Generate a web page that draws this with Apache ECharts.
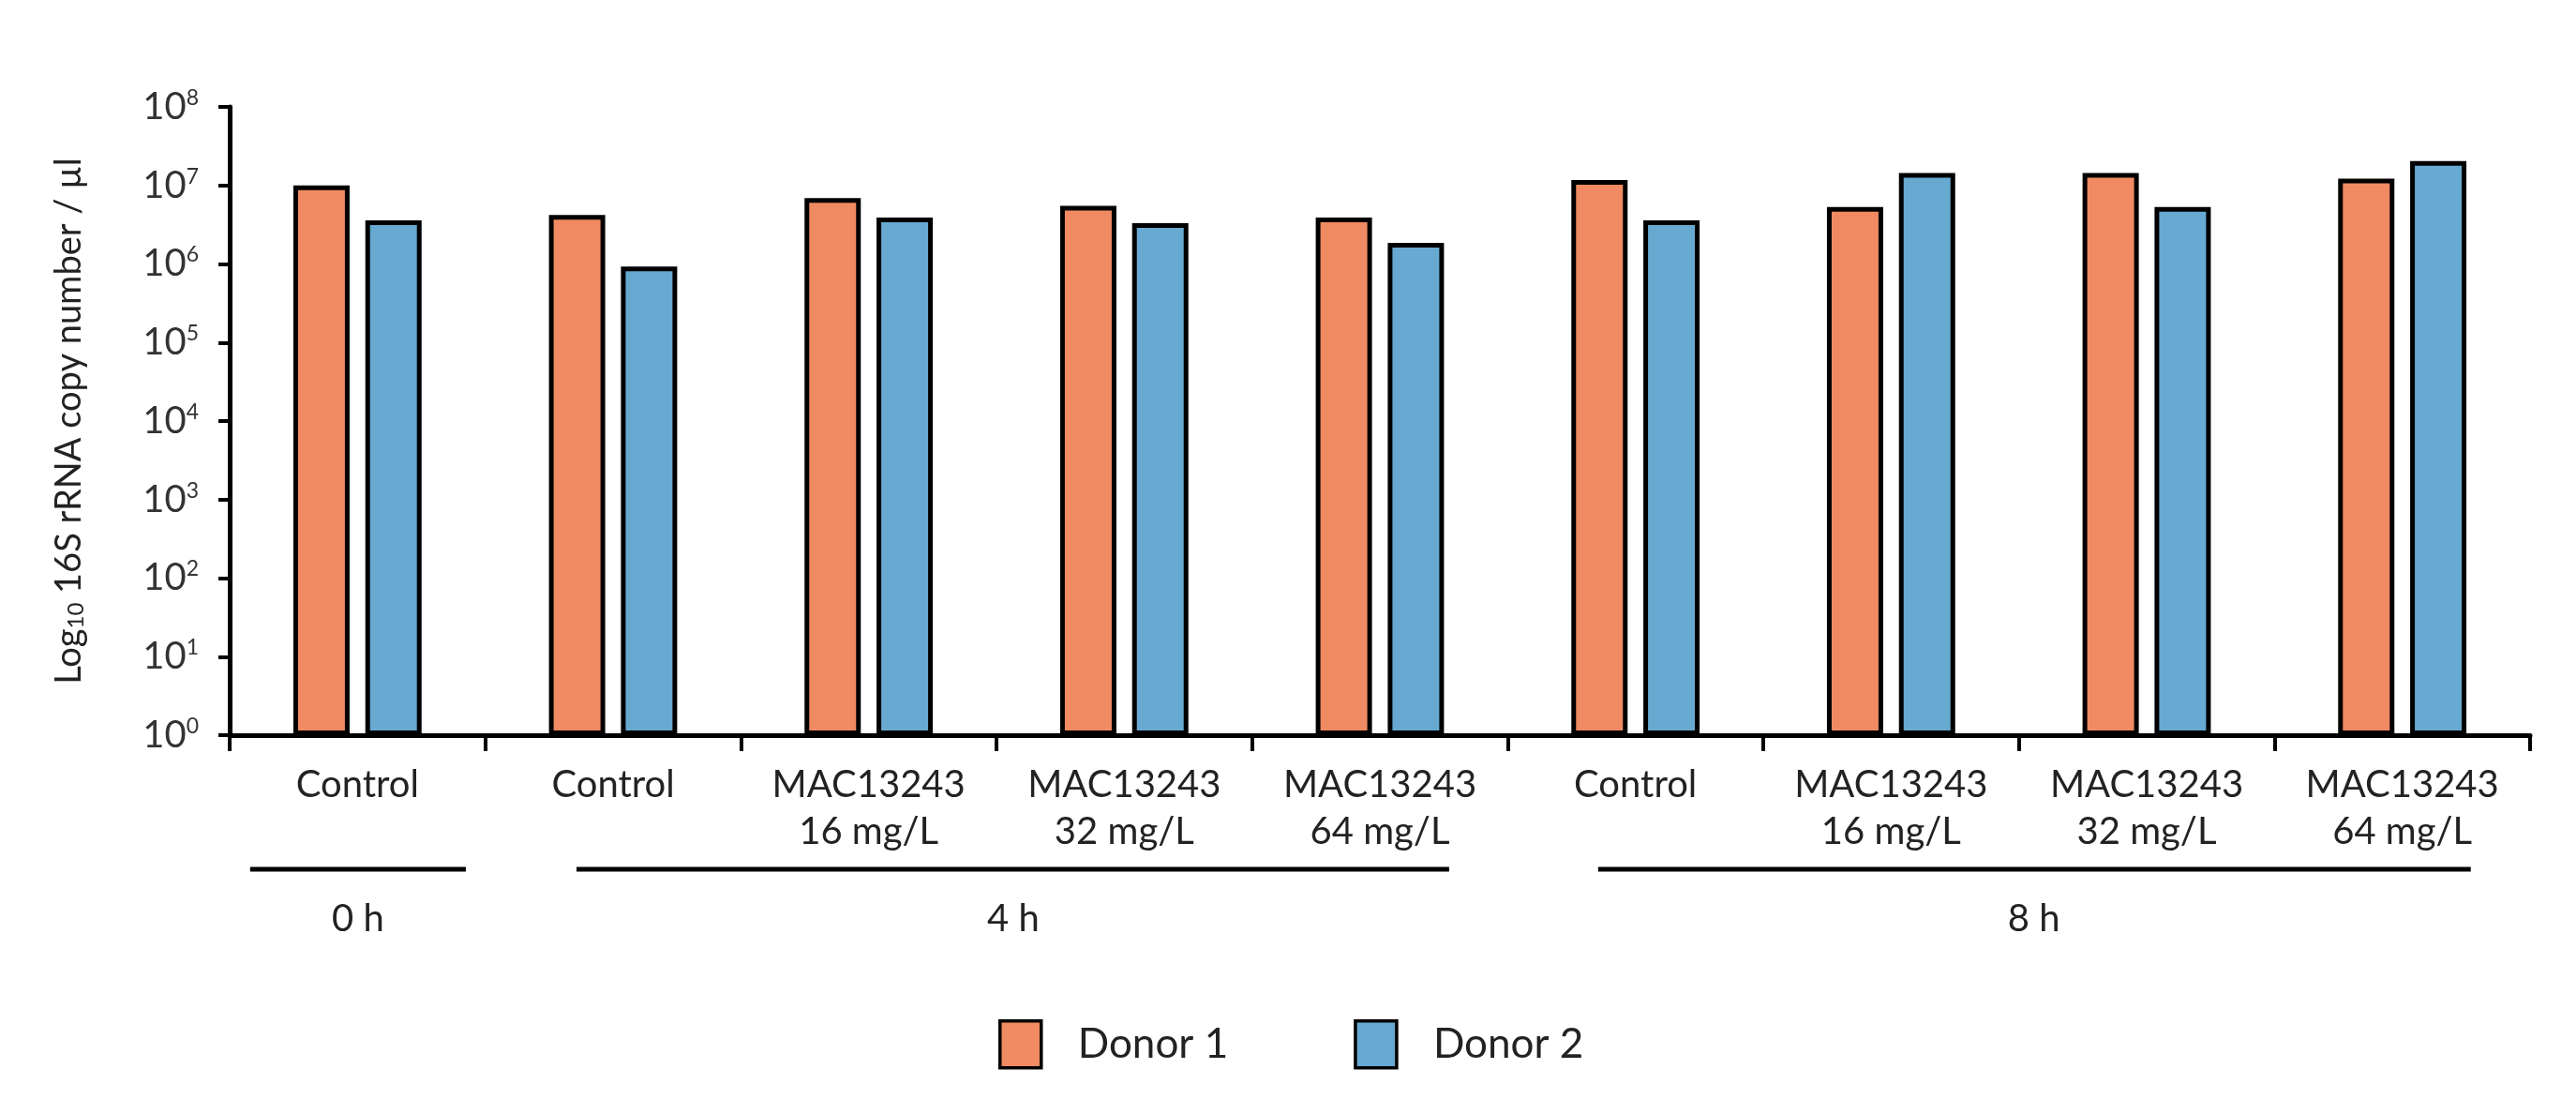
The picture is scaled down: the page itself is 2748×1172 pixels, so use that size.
<!DOCTYPE html>
<html>
<head>
<meta charset="utf-8">
<script src="https://cdn.jsdelivr.net/npm/echarts@6/dist/echarts.min.js"></script>
<style>
  html, body { margin: 0; padding: 0; background: #fff; }
  #chart { width: 2748px; height: 1172px; }
</style>
</head>
<body>
<div id="chart"></div>
<script>
// ---------- data ----------
const categories = [
  'Control',
  'Control',
  'MAC13243\n16 mg/L',
  'MAC13243\n32 mg/L',
  'MAC13243\n64 mg/L',
  'Control',
  'MAC13243\n16 mg/L',
  'MAC13243\n32 mg/L',
  'MAC13243\n64 mg/L'
];
const seriesNames = ['Donor 1', 'Donor 2'];
const donor1 = [1.0e7, 4.2e6, 6.9e6, 5.5e6, 3.9e6, 1.17e7, 5.3e6, 1.44e7, 1.22e7];
const donor2 = [3.6e6, 9.3e5, 3.9e6, 3.3e6, 1.86e6, 3.6e6, 1.44e7, 5.3e6, 2.05e7];
const yTickExponents = ['0', '1', '2', '3', '4', '5', '6', '7', '8'];
const timeGroups = ['0 h', '4 h', '8 h'];
const timeGroupFirst = [0, 1, 5];
const timeGroupLast = [0, 4, 8];

// ---------- styles ----------
const FONT = 'Lato';
const TEXT = '#222';
const ORANGE = '#F08A62';
const BLUE = '#67A9D0';
// bracket insets (fraction of a category band): left, right, label centre offset
const bracketLayout = [
  { l: 0.08, r: 0.076, c: 0.502 },
  { l: 0.357, r: 0.229, c: 2.066 },
  { l: 0.354, r: 0.232, c: 2.059 }
];

const chart = echarts.init(document.getElementById('chart'), null, { renderer: 'canvas' });

const option = {
  animation: false,
  backgroundColor: '#fff',
  grid: { left: 245, right: 49, top: 114, bottom: 388, containLabel: false },
  legend: {
    data: seriesNames,
    left: 1060,
    top: 1082,
    icon: 'rect',
    itemWidth: 44,
    itemHeight: 50,
    itemGap: 134,
    itemStyle: { borderColor: '#000', borderWidth: 3.5 },
    textStyle: { fontFamily: FONT, fontSize: 44, color: TEXT, padding: [0, 0, 0, 34] }
  },
  xAxis: {
    type: 'category',
    data: categories,
    axisLine: { lineStyle: { color: '#000', width: 5 } },
    axisTick: { show: true, length: 17, lineStyle: { color: '#000', width: 4 } },
    axisLabel: {
      interval: 0,
      fontFamily: FONT,
      fontSize: 40,
      lineHeight: 50,
      color: TEXT,
      margin: 28
    },
    splitLine: { show: false }
  },
  yAxis: {
    type: 'log',
    logBase: 10,
    min: 1,
    max: 1e8,
    splitNumber: 8,
    name: 'Log{sub|10} 16S rRNA copy number / µl',
    nameLocation: 'middle',
    nameRotate: 90,
    nameGap: 152,
    nameTextStyle: {
      fontFamily: FONT,
      fontSize: 38,
      color: TEXT,
      rich: {
        sub: { fontFamily: FONT, fontSize: 24, color: TEXT, verticalAlign: 'bottom', padding: [12, 0, 0, 0] }
      }
    },
    axisLine: { show: true, lineStyle: { color: '#000', width: 5 } },
    axisTick: { show: true, length: 12, lineStyle: { color: '#000', width: 4 } },
    splitLine: { show: false },
    axisLabel: {
      margin: 33,
      formatter: function (v) {
        const e = Math.round(Math.log10(v));
        return '{b|10}{s|' + yTickExponents[e] + '}';
      },
      rich: {
        b: { fontFamily: FONT, fontSize: 40, color: '#333', lineHeight: 42 },
        s: { fontFamily: FONT, fontSize: 23, color: '#333', verticalAlign: 'top', lineHeight: 42, padding: [0, 0, 15, 0] }
      }
    }
  },
  series: [
    {
      name: seriesNames[0],
      type: 'bar',
      data: donor1,
      barWidth: 60,
      barGap: '28%',
      itemStyle: { color: ORANGE, borderColor: '#000', borderWidth: 5 }
    },
    {
      name: seriesNames[1],
      type: 'bar',
      data: donor2,
      barWidth: 60,
      barGap: '28%',
      itemStyle: { color: BLUE, borderColor: '#000', borderWidth: 5 }
    }
  ]
};

chart.setOption(option);

// ---------- time-point brackets below the axis ----------
function drawBrackets() {
  const c0 = chart.convertToPixel({ xAxisIndex: 0 }, 0);
  const c1 = chart.convertToPixel({ xAxisIndex: 0 }, 1);
  const band = c1 - c0;
  const x0 = c0 - band / 2;
  const lineY = 927;
  const labelY = 980;
  const elems = [];
  timeGroups.forEach(function (name, i) {
    const L = bracketLayout[i];
    const xs = x0 + (timeGroupFirst[i] + L.l) * band;
    const xe = x0 + (timeGroupLast[i] + 1 - L.r) * band;
    const xc = x0 + (timeGroupFirst[i] + L.c) * band;
    elems.push({
      type: 'line',
      shape: { x1: xs, y1: lineY, x2: xe, y2: lineY },
      style: { stroke: '#000', lineWidth: 5 }
    });
    elems.push({
      type: 'text',
      x: xc,
      y: labelY,
      style: {
        text: name,
        fontFamily: FONT,
        fontSize: 40,
        fill: TEXT,
        align: 'center',
        verticalAlign: 'middle'
      }
    });
  });
  chart.setOption({ graphic: elems });
}
drawBrackets();
</script>
</body>
</html>
